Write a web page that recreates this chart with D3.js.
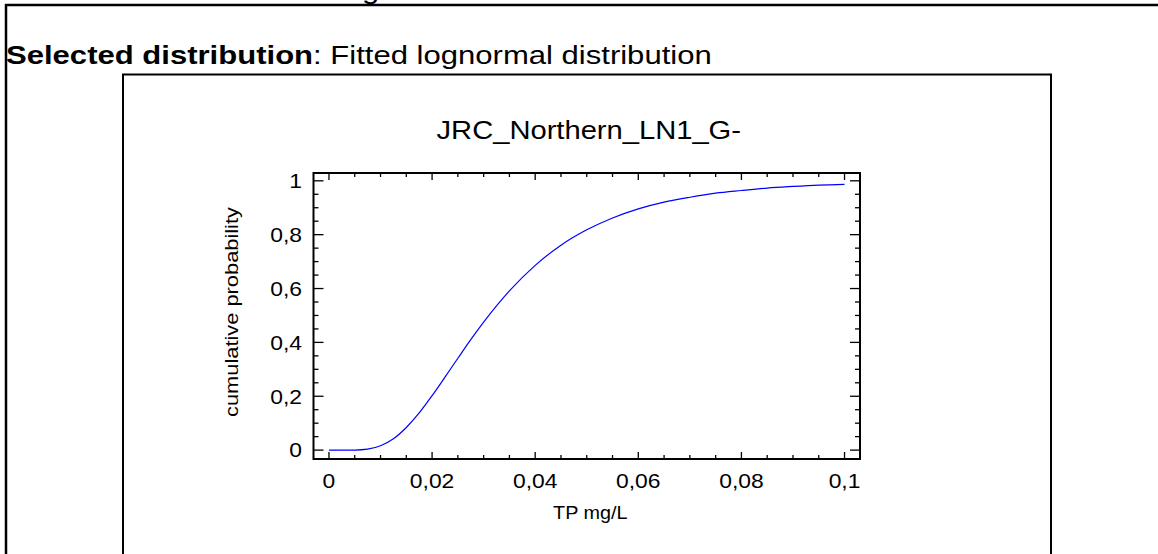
<!DOCTYPE html>
<html>
<head>
<meta charset="utf-8">
<script src="https://cdn.jsdelivr.net/npm/d3@7"></script>
<style>
  html, body { margin: 0; padding: 0; background: #fff; }
  svg { display: block; font-family: "Liberation Sans", Arial, sans-serif; }
</style>
</head>
<body>
<svg id="chart" width="1158" height="554"></svg>
<script>
// Fitted lognormal CDF for TP (mg/L)
const tpValues = [0, 0.005, 0.0075, 0.01, 0.0125, 0.015, 0.0175, 0.02, 0.0225, 0.025, 0.0275, 0.03,
  0.035, 0.04, 0.045, 0.05, 0.055, 0.06, 0.065, 0.07, 0.075, 0.08, 0.085, 0.09, 0.095, 0.1];
const cumProb = [0, 0.0003, 0.0035, 0.016, 0.042, 0.084, 0.138, 0.202, 0.271, 0.341, 0.410, 0.475,
  0.591, 0.686, 0.761, 0.818, 0.862, 0.896, 0.921, 0.939, 0.954, 0.964, 0.973, 0.979, 0.984, 0.987];

const xMajorTicks = [0, 0.02, 0.04, 0.06, 0.08, 0.1];
const yMajorTicks = [0, 0.2, 0.4, 0.6, 0.8, 1];
const xMinorStep = 0.005;
const yMinorStep = 0.05;

const headerBold = "Selected distribution";
const headerRest = ": Fitted lognormal distribution";
const chartTitle = "JRC_Northern_LN1_G-";
const xAxisTitle = "TP mg/L";
const yAxisTitle = "cumulative probability";

const svg = d3.select("#chart");
const ink = "#000";

// text helper: position, optional rotation, and a horizontal widening of the glyphs
function label(parent, tx, ty, str, size, sx, anchor, rot) {
  const t = parent.append("text")
    .attr("transform", `translate(${tx},${ty})` + (rot ? ` rotate(${rot})` : "") + ` scale(${sx},1)`)
    .attr("text-anchor", anchor || "start")
    .attr("font-size", size).attr("fill", ink);
  if (str !== null) t.text(str);
  return t;
}

// clipped descender from the previous line of the page
label(svg, 362, -1.5, "g", 26.5, 1.17, "start");

// page frame lines
svg.append("line").attr("x1", 5).attr("y1", 5).attr("x2", 1158).attr("y2", 5)
  .attr("stroke", ink).attr("stroke-width", 2.5);
svg.append("line").attr("x1", 6).attr("y1", 4).attr("x2", 6).attr("y2", 554)
  .attr("stroke", ink).attr("stroke-width", 2.5);

// header line
const header = label(svg, 6, 63.5, null, 26.5, 1.172, "start");
header.append("tspan").attr("font-weight", "bold").text(headerBold);
header.append("tspan").text(headerRest);

// chart box
svg.append("rect").attr("x", 123).attr("y", 74.5).attr("width", 928).attr("height", 520)
  .attr("fill", "none").attr("stroke", ink).attr("stroke-width", 2);

// scales (domains padded around the data range)
const x = d3.scaleLinear().domain([-0.003, 0.103]).range([313.5, 860]);
const y = d3.scaleLinear().domain([-0.033, 1.029]).range([459, 173]);

const [x0, x1] = x.range();
const [y0, y1] = y.range();

label(svg, (x0 + x1) / 2 + 2, 139, chartTitle, 26.5, 1.10, "middle");

// ticks on all four sides, pointing inwards
const xMinor = d3.range(0, 0.1 + 1e-9, xMinorStep);
const yMinor = d3.range(0, 1 + 1e-9, yMinorStep);
const isMajor = (v, arr) => arr.some(t => Math.abs(t - v) < 1e-9);
const tickG = svg.append("g").attr("stroke", ink).attr("stroke-width", 1.3);
xMinor.forEach(v => {
  const len = isMajor(v, xMajorTicks) ? 7 : 4;
  tickG.append("line").attr("x1", x(v)).attr("x2", x(v)).attr("y1", y0).attr("y2", y0 - len);
  tickG.append("line").attr("x1", x(v)).attr("x2", x(v)).attr("y1", y1).attr("y2", y1 + len);
});
yMinor.forEach(v => {
  const len = isMajor(v, yMajorTicks) ? 10 : 5;
  tickG.append("line").attr("y1", y(v)).attr("y2", y(v)).attr("x1", x0).attr("x2", x0 + len);
  tickG.append("line").attr("y1", y(v)).attr("y2", y(v)).attr("x1", x1).attr("x2", x1 - len);
});

// plot frame
svg.append("rect").attr("x", x0).attr("y", y1).attr("width", x1 - x0).attr("height", y0 - y1)
  .attr("fill", "none").attr("stroke", ink).attr("stroke-width", 2);

// tick labels with comma decimals
const loc = d3.formatLocale({ decimal: ",", thousands: ".", grouping: [3], currency: ["", ""] });
const fx = loc.format(".2~f");
const fy = loc.format(".1~f");

const xLab = svg.append("g");
xMajorTicks.forEach(d => label(xLab, x(d), 488, fx(d), 20.5, 1.115, "middle"));
const yLab = svg.append("g");
yMajorTicks.forEach(d => label(yLab, 302, y(d) + 7.3, fy(d), 20.5, 1.115, "end"));

// axis titles
label(svg, (x0 + x1) / 2 + 3.5, 519, xAxisTitle, 18, 1.10, "middle");
label(svg, 238, (y0 + y1) / 2 - 4, yAxisTitle, 18, 1.213, "middle", -90);

// CDF curve
const line = d3.line().x((d, i) => x(tpValues[i])).y(d => y(d)).curve(d3.curveMonotoneX);
svg.append("path").datum(cumProb).attr("d", line)
  .attr("fill", "none").attr("stroke", "#0000ff").attr("stroke-width", 1.2);
</script>
</body>
</html>
